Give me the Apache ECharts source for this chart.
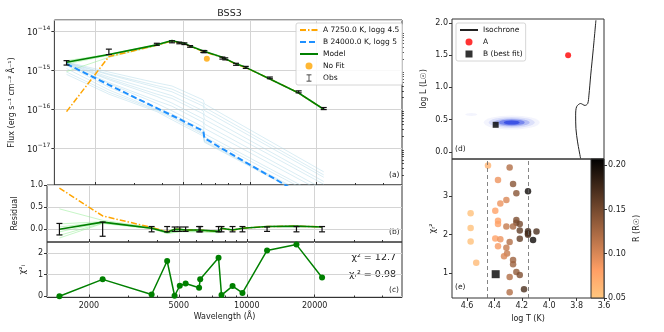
<!DOCTYPE html>
<html>
<head>
<meta charset="utf-8">
<script src="https://cdn.jsdelivr.net/npm/echarts@6/dist/echarts.min.js"></script>
<style>
html,body{margin:0;padding:0;background:#fff;}
#chart{width:664px;height:332px;}
</style>
</head>
<body>
<div id="chart"></div>
<script>
var FONT = 'DejaVu Sans';

// filter wavelengths (A) and fluxes as log10(erg/s/cm2/A)
var wave     = [1480, 2300, 3790, 4440, 4790, 5050, 5360, 6150, 6220, 7500, 7730, 8650, 9570, 12300, 16600, 21550];
var logObs   = [-14.80, -14.515, -14.325, -14.26, -14.29, -14.31, -14.38, -14.51, -14.515, -14.68, -14.70, -14.84, -14.92, -15.19, -15.55, -15.98];
var obsErr   = [0.13, 0.16, 0.06, 0.06, 0.05, 0.05, 0.05, 0.06, 0.06, 0.06, 0.06, 0.06, 0.06, 0.05, 0.06, 0.06];
var logModel = [-14.79, -14.59, -14.34, -14.23, -14.28, -14.30, -14.37, -14.50, -14.505, -14.66, -14.70, -14.83, -14.92, -15.22, -15.58, -16.00];
var logA     = [-16.06, -14.643, -14.35, -14.24, -14.29, -14.31, -14.38, -14.51, -14.51, -14.665, -14.705, -14.835, -14.925, -15.22, -15.58, -16.00];
var logB     = [-14.83, -15.37, -15.97, -16.16, -16.25, -16.32, -16.39, -16.56, -16.74, -17.02, -17.06, -17.22, -17.37, -17.72, -18.15, -18.52];
var noFitWave = [6380];
var noFitLog  = [-14.695];

// residuals and chi2 per filter
var resModel = [0.0, 0.16, 0.02, -0.07, 0.0, 0.0, -0.02, -0.02, -0.02, -0.05, 0.02, -0.02, 0.02, 0.06, 0.07, 0.05];
var resA     = [0.93, 0.30, 0.04, -0.06, 0.0, 0.0, -0.02, -0.02, -0.02, -0.05, 0.02, -0.02, 0.02, 0.06, 0.07, 0.05];
var chi2     = [0.0, 0.78, 0.08, 1.63, 0.02, 0.48, 0.59, 0.39, 0.78, 1.78, 0.05, 0.47, 0.15, 2.12, 2.39, 0.87];

// fainter B-component fits (log flux)
var sampleWave = [1480, 2300, 3790, 4440, 6150, 6220, 21550];
var bSamples = [
  [-14.78, -15.04, -15.32, -15.40, -15.76, -15.86, -17.61],
  [-14.79, -15.09, -15.39, -15.48, -15.85, -15.95, -17.69],
  [-14.80, -15.11, -15.44, -15.55, -15.92, -16.03, -17.75],
  [-14.80, -15.17, -15.53, -15.65, -16.04, -16.15, -17.86],
  [-14.81, -15.21, -15.61, -15.72, -16.12, -16.26, -17.93],
  [-14.82, -15.24, -15.67, -15.84, -16.25, -16.38, -18.06],
  [-14.83, -15.31, -15.78, -15.92, -16.34, -16.49, -18.14],
  [-14.84, -15.34, -15.85, -16.04, -16.46, -16.63, -18.27],
  [-14.87, -15.43, -15.96, -16.12, -16.54, -16.71, -18.33],
  [-14.95, -15.50, -16.01, -16.19, -16.62, -16.80, -18.42],
  [-15.04, -15.56, -16.03, -16.22, -16.65, -16.83, -18.45],
  [-15.10, -15.61, -16.06, -16.27, -16.69, -16.85, -18.48]
];
var gSampleWave = [1480, 2300, 3790, 4440];
var gSamples = [
  [-14.75, -14.58, -14.33, -14.23],
  [-14.77, -14.59, -14.34, -14.23],
  [-14.80, -14.60, -14.34, -14.24],
  [-14.83, -14.61, -14.35, -14.24],
  [-15.03, -14.66, -14.36, -14.24]
];
var rSampleWave = [1480, 2300, 3790, 4440, 5050, 6150, 7500];
var rSamples = [
  [0.12, 0.17, 0.04, -0.06, -0.02, -0.02, -0.04],
  [0.05, 0.16, 0.03, -0.07, -0.03, -0.03, -0.05],
  [-0.06, 0.15, 0.02, -0.08, -0.04, -0.04, -0.06],
  [-0.14, 0.14, 0.02, -0.09, -0.05, -0.05, -0.07],
  [-0.20, 0.13, 0.01, -0.10, -0.06, -0.06, -0.08],
  [0.46, 0.20, 0.04, -0.07, -0.03, -0.03, -0.04]
];

// HR diagram (d)
var isoT = [3.659, 3.678, 3.697, 3.710, 3.719, 3.739, 3.771, 3.800, 3.807, 3.805, 3.793, 3.771];
var isoL = [2.04, 1.60, 1.19, 0.88, 0.75, 0.72, 0.75, 0.70, 0.57, 0.36, 0.155, -0.10];
var blobT = [4.274, 4.569];
var blobL = [0.456, 0.58];
var starA = [3.862, 1.50];
var starB = [4.391, 0.42];

// chi2_r vs logT (e), colour = R
var fitT = [4.447, 4.289, 4.374, 4.264, 4.240, 4.155, 4.313, 4.357, 4.394, 4.574, 4.374, 4.374, 4.240, 4.240, 4.215, 4.313, 4.264, 4.574, 4.215, 4.155, 4.155, 4.155, 4.093, 4.394, 4.357, 4.215, 4.574, 4.118, 4.289, 4.374, 4.313, 4.308, 4.330, 4.264, 4.264, 4.533, 4.240, 4.215, 4.289, 4.184, 4.289];
var fitChi = [3.80, 3.75, 3.42, 3.32, 3.08, 3.13, 2.90, 2.81, 2.62, 2.56, 2.36, 2.28, 2.38, 2.31, 2.28, 2.21, 2.21, 2.17, 2.11, 2.09, 2.03, 2.00, 2.08, 1.90, 1.88, 1.89, 1.82, 1.86, 1.81, 1.70, 1.66, 1.51, 1.44, 1.34, 1.23, 1.27, 1.03, 0.95, 0.90, 0.58, 0.50];
var fitR = [0.065, 0.12, 0.09, 0.14, 0.14, 0.20, 0.10, 0.09, 0.08, 0.055, 0.08, 0.08, 0.145, 0.145, 0.15, 0.11, 0.125, 0.055, 0.16, 0.18, 0.18, 0.17, 0.17, 0.08, 0.09, 0.16, 0.055, 0.20, 0.12, 0.085, 0.11, 0.11, 0.10, 0.13, 0.13, 0.06, 0.135, 0.145, 0.12, 0.17, 0.12];
var bestFit = [4.391, 0.97];
var teffRange = [4.447, 4.147];

var majorWave = [2000, 5000, 10000, 20000];
var minorWave = [3000, 4000, 6000, 7000, 8000, 9000, 30000, 40000];
var cmap = ['#ffc77f', '#ff9f65', '#bf774c', '#805033', '#402819', '#000000'];

function pw(v) { return Math.pow(10, v); }
function pairs(xs, ys) { return xs.map(function (x, i) { return [x, ys[i]]; }); }

var myChart = echarts.init(document.getElementById('chart'));

var wMin = 1304, wMax = 48700;
var gx = 47, gw = 355;
var grids = [
  {left: gx, top: 20, width: gw, height: 165},
  {left: gx, top: 185, width: gw, height: 57},
  {left: gx, top: 242, width: gw, height: 55.5},
  {left: 452, top: 19, width: 152, height: 140},
  {left: 452, top: 159, width: 152, height: 139},
  {left: 591, top: 159, width: 13, height: 139}
];
grids.forEach(function (g) {
  g.show = true;
  g.borderColor = '#333';
  g.borderWidth = 1;
  g.backgroundColor = 'transparent';
  g.containLabel = false;
});
grids[5].backgroundColor = {
  type: 'linear', x: 0, y: 0, x2: 0, y2: 1,
  colorStops: cmap.slice().reverse().map(function (c, i) { return {offset: i / (cmap.length - 1), color: c}; })
};

var lg10 = function (v) { return Math.log10(v); };

var xAxes = [];
// 0-2 log axes used by data
for (var i = 0; i < 3; i++) {
  xAxes.push({type: 'log', gridIndex: i, min: wMin, max: wMax, position: 'top', show: false});
}
// 3-5 major ticks / grid lines / labels
for (var i = 0; i < 3; i++) {
  xAxes.push({
    type: 'value', gridIndex: i, min: lg10(wMin), max: lg10(wMax), position: 'bottom',
    axisLine: {show: false, onZero: false},
    axisTick: {show: true, inside: true, length: 3, customValues: majorWave.map(lg10), lineStyle: {color: '#333'}},
    axisLabel: {show: i === 2, customValues: majorWave.map(lg10), margin: 4,
      formatter: function (v) { return Math.round(Math.pow(10, v)); }, fontSize: 8, fontFamily: FONT, color: '#222'},
    splitLine: {show: true, lineStyle: {color: '#d4d4d4', width: 1}},
    name: i === 2 ? 'Wavelength (Å)' : '', nameLocation: 'middle', nameGap: 15,
    nameTextStyle: {fontSize: 8, fontFamily: FONT, color: '#222'}
  });
}
// 6-8 minor ticks
for (var i = 0; i < 3; i++) {
  xAxes.push({
    type: 'value', gridIndex: i, min: lg10(wMin), max: lg10(wMax), position: 'bottom',
    axisLine: {show: false, onZero: false},
    axisTick: {show: true, inside: true, length: 2, customValues: minorWave.map(lg10), lineStyle: {color: '#333'}},
    axisLabel: {show: false}, splitLine: {show: false}
  });
}
// 9 (d), 10 (e), 11 colorbar
xAxes.push({type: 'value', gridIndex: 3, inverse: true, min: 3.6, max: 4.71,
  axisLine: {show: false, onZero: false}, axisTick: {show: false}, axisLabel: {show: false}, splitLine: {show: false}});
xAxes.push({type: 'value', gridIndex: 4, inverse: true, min: 3.6, max: 4.71,
  axisLine: {show: false, onZero: false},
  axisTick: {show: true, length: 3, customValues: [3.6, 3.8, 4.0, 4.2, 4.4, 4.6], lineStyle: {color: '#333'}},
  axisLabel: {customValues: [3.6, 3.8, 4.0, 4.2, 4.4, 4.6], formatter: function (v) { return v.toFixed(1); },
    margin: 4, fontSize: 8, fontFamily: FONT, color: '#222'},
  splitLine: {show: false},
  name: 'log T (K)', nameLocation: 'middle', nameGap: 17, nameTextStyle: {fontSize: 8, fontFamily: FONT, color: '#222'}});
xAxes.push({type: 'value', gridIndex: 5, min: 0, max: 1, show: false});

var minorFlux = [];
for (var n = -18; n <= -14; n++) {
  for (var k = 2; k <= 9; k++) { minorFlux.push(n + Math.log10(k)); }
}

var yName = {fontSize: 8, fontFamily: FONT, color: '#222'};
var yAxes = [
  {type: 'log', gridIndex: 0, min: pw(-17.95), max: pw(-13.70),
    axisLine: {show: false, onZero: false},
    axisTick: {length: 3, lineStyle: {color: '#333'}},
    axisLabel: {showMinLabel: false, showMaxLabel: false, margin: 4,
      formatter: function (v) { var e = Math.round(Math.log10(v)); return '{b|10}{s|' + (e < 0 ? '−' : '') + Math.abs(e) + '}'; },
      rich: {b: {fontSize: 8.5, fontFamily: FONT, color: '#222', lineHeight: 12, verticalAlign: 'bottom'},
             s: {fontSize: 6, fontFamily: FONT, color: '#222', lineHeight: 12, verticalAlign: 'top'}}},
    splitLine: {show: true, lineStyle: {color: '#d4d4d4', width: 1}},
    name: 'Flux (erg s⁻¹ cm⁻² Å⁻¹)', nameLocation: 'middle', nameGap: 33, nameRotate: 90, nameTextStyle: yName},
  {type: 'value', gridIndex: 0, min: -17.95, max: -13.70,
    axisLine: {show: false, onZero: false},
    axisTick: {length: 1.8, customValues: minorFlux, lineStyle: {color: '#333'}},
    axisLabel: {show: false}, splitLine: {show: false}},
  {type: 'value', gridIndex: 1, min: -0.29, max: 1.0,
    axisLine: {show: false, onZero: false},
    axisTick: {length: 3, customValues: [0, 0.5, 1.0], lineStyle: {color: '#333'}},
    axisLabel: {customValues: [0, 0.5, 1.0], formatter: function (v) { return v.toFixed(1); }, margin: 4, fontSize: 8, fontFamily: FONT, color: '#222'},
    splitLine: {show: true, lineStyle: {color: '#d4d4d4', width: 1}},
    name: 'Residual', nameLocation: 'middle', nameGap: 21, nameRotate: 90, nameTextStyle: yName},
  {type: 'value', gridIndex: 2, min: -0.06, max: 2.51,
    axisLine: {show: false, onZero: false},
    axisTick: {length: 3, customValues: [0, 1, 2], lineStyle: {color: '#333'}},
    axisLabel: {customValues: [0, 1, 2], margin: 4, fontSize: 8, fontFamily: FONT, color: '#222'},
    splitLine: {show: true, lineStyle: {color: '#d4d4d4', width: 1}},
    name: 'χ²ᵢ', nameLocation: 'middle', nameGap: 12, nameRotate: 90, nameTextStyle: yName},
  {type: 'value', gridIndex: 3, min: -0.11, max: 2.06,
    axisLine: {show: false, onZero: false},
    axisTick: {length: 3, customValues: [0, 0.5, 1.0, 1.5, 2.0], lineStyle: {color: '#333'}},
    axisLabel: {customValues: [0, 0.5, 1.0, 1.5, 2.0], formatter: function (v) { return v.toFixed(1); }, margin: 4, fontSize: 8, fontFamily: FONT, color: '#222'},
    splitLine: {show: false},
    name: 'log L (L☉)', nameLocation: 'middle', nameGap: 24, nameRotate: 90, nameTextStyle: yName},
  {type: 'value', gridIndex: 4, min: 0.35, max: 3.97,
    axisLine: {show: false, onZero: false},
    axisTick: {length: 3, customValues: [1, 2, 3], lineStyle: {color: '#333'}},
    axisLabel: {customValues: [1, 2, 3], margin: 4, fontSize: 8, fontFamily: FONT, color: '#222'},
    splitLine: {show: false},
    name: 'χᵣ²', nameLocation: 'middle', nameGap: 15, nameRotate: 90, nameTextStyle: yName},
  {type: 'value', gridIndex: 5, position: 'right', min: 0.05, max: 0.207,
    axisLine: {show: false, onZero: false},
    axisTick: {length: 3, customValues: [0.05, 0.10, 0.15, 0.20], lineStyle: {color: '#333'}},
    axisLabel: {customValues: [0.05, 0.10, 0.15, 0.20], formatter: function (v) { return v.toFixed(2); }, margin: 4, fontSize: 8, fontFamily: FONT, color: '#222'},
    splitLine: {show: false},
    name: 'R (R☉)', nameLocation: 'middle', nameGap: 29, nameRotate: 90, nameTextStyle: yName}
];

function errRender(params, api) {
  var x = api.value(0);
  var p0 = api.coord([x, api.value(1)]);
  var p1 = api.coord([x, api.value(2)]);
  var c = 3;
  var st = {stroke: '#111', lineWidth: 1.2};
  return {type: 'group', children: [
    {type: 'line', shape: {x1: p0[0], y1: p0[1], x2: p1[0], y2: p1[1]}, style: st},
    {type: 'line', shape: {x1: p0[0] - c, y1: p0[1], x2: p0[0] + c, y2: p0[1]}, style: st},
    {type: 'line', shape: {x1: p1[0] - c, y1: p1[1], x2: p1[0] + c, y2: p1[1]}, style: st}
  ]};
}

var series = [];
// (a) SED
bSamples.forEach(function (s) {
  series.push({type: 'line', xAxisIndex: 0, yAxisIndex: 0, data: pairs(sampleWave, s.map(pw)), symbol: 'none', silent: true,
    lineStyle: {color: '#a9d6e5', width: 0.8, opacity: 0.55}, z: 1});
});
gSamples.forEach(function (s) {
  series.push({type: 'line', xAxisIndex: 0, yAxisIndex: 0, data: pairs(gSampleWave, s.map(pw)), symbol: 'none', silent: true,
    lineStyle: {color: '#90ee90', width: 1, opacity: 0.5}, z: 1});
});
series.push({name: 'A 7250.0 K, logg 4.5', type: 'line', xAxisIndex: 0, yAxisIndex: 0, data: pairs(wave, logA.map(pw)), symbol: 'none',
  lineStyle: {color: '#ffa500', width: 1.5, type: [6, 2, 1.5, 2]}, itemStyle: {color: '#ffa500'}, z: 3});
series.push({name: 'B 24000.0 K, logg 5', type: 'line', xAxisIndex: 0, yAxisIndex: 0, data: pairs(wave, logB.map(pw)), symbol: 'none',
  lineStyle: {color: '#1e90ff', width: 2, type: [6, 3]}, itemStyle: {color: '#1e90ff'}, z: 3});
series.push({name: 'Model', type: 'line', xAxisIndex: 0, yAxisIndex: 0, data: pairs(wave, logModel.map(pw)), symbol: 'none',
  lineStyle: {color: '#008000', width: 1.6}, itemStyle: {color: '#008000'}, z: 4});
series.push({name: 'No Fit', type: 'scatter', xAxisIndex: 0, yAxisIndex: 0, data: pairs(noFitWave, noFitLog.map(pw)), symbolSize: 6,
  itemStyle: {color: '#ffa500'}, z: 5});
series.push({name: 'Obs', type: 'custom', xAxisIndex: 0, yAxisIndex: 0, renderItem: errRender,
  encode: {x: 0, y: [1, 2]}, itemStyle: {color: '#111'}, z: 6,
  data: wave.map(function (w, i) { var f = pw(logObs[i]); return [w, f * (1 - obsErr[i]), f * (1 + obsErr[i])]; })});

// (b) residuals
rSamples.forEach(function (s) {
  series.push({type: 'line', xAxisIndex: 1, yAxisIndex: 2, data: pairs(rSampleWave, s), symbol: 'none', silent: true,
    lineStyle: {color: '#90ee90', width: 1, opacity: 0.5}, z: 1});
});
series.push({type: 'line', xAxisIndex: 1, yAxisIndex: 2, data: pairs(wave, resA), symbol: 'none',
  lineStyle: {color: '#ffa500', width: 1.5, type: [6, 2, 1.5, 2]}, z: 3});
series.push({type: 'line', xAxisIndex: 1, yAxisIndex: 2, data: pairs(wave, resModel), symbol: 'none',
  lineStyle: {color: '#008000', width: 1.6}, z: 4});
series.push({type: 'custom', xAxisIndex: 1, yAxisIndex: 2, renderItem: errRender, encode: {x: 0, y: [1, 2]}, z: 6,
  data: wave.map(function (w, i) { return [w, -obsErr[i], obsErr[i]]; })});

// (c) chi2 per point
series.push({type: 'line', xAxisIndex: 2, yAxisIndex: 3, data: pairs(wave, chi2), symbol: 'circle', symbolSize: 6,
  lineStyle: {color: '#008000', width: 1.5}, itemStyle: {color: '#008000'}, z: 4});

// (d) HR diagram
var blobLayers = [[56, 14, 0.05], [46, 11, 0.1], [36, 8, 0.2], [26, 6, 0.38], [16, 4, 0.6]];
var blobData = blobLayers.map(function (b) {
  return {value: [blobT[0], blobL[0]], symbolSize: [b[0], b[1]], itemStyle: {opacity: b[2]}};
});
blobData.push({value: [blobT[1], blobL[1]], symbolSize: [12, 3], itemStyle: {opacity: 0.05}});
series.push({type: 'scatter', xAxisIndex: 9, yAxisIndex: 4, data: blobData, silent: true,
  itemStyle: {color: '#1530e0'}, z: 1});
series.push({name: 'Isochrone', type: 'line', xAxisIndex: 9, yAxisIndex: 4, data: pairs(isoT, isoL), symbol: 'none', smooth: 0.3,
  lineStyle: {color: '#222', width: 1}, itemStyle: {color: '#444'}, z: 2});
series.push({name: 'A', type: 'scatter', xAxisIndex: 9, yAxisIndex: 4, data: [starA], symbolSize: 6, itemStyle: {color: '#ff0000'}, z: 3});
series.push({name: 'B (best fit)', type: 'scatter', xAxisIndex: 9, yAxisIndex: 4, data: [starB], symbol: 'rect', symbolSize: 6,
  itemStyle: {color: '#000'}, z: 3});

// (e) chi2_r vs T
var fitIdx = series.length;
series.push({type: 'scatter', xAxisIndex: 10, yAxisIndex: 5, symbolSize: 6.5, z: 3,
  data: fitT.map(function (t, i) { return [t, fitChi[i], fitR[i]]; })});
series.push({type: 'scatter', xAxisIndex: 10, yAxisIndex: 5, symbol: 'rect', symbolSize: 8, data: [bestFit],
  itemStyle: {color: '#000'}, z: 4,
  markLine: {silent: true, symbol: 'none', label: {show: false},
    lineStyle: {color: '#666', width: 0.8, type: [4, 3]},
    data: teffRange.map(function (t) { return {xAxis: t}; })}});

function txt(s, x, y, size, align) {
  return {type: 'text', x: x, y: y, silent: true,
    style: {text: s, fill: '#222', fontSize: size, fontFamily: FONT, align: align || 'left', verticalAlign: 'middle'}};
}

var noSym = {opacity: 0};
var dot = 'path://M5,0A5,5,0,1,1,4.99,0Z';
var square = 'path://M0,0h10v10h-10z';

function legendOf(pos, items) {
  return {
    left: pos[0], top: pos[1], data: items,
    orient: 'vertical', itemWidth: 18, itemHeight: 7, itemGap: 4, padding: [3, 3, 3, 3],
    borderColor: '#cccccc', borderWidth: 0.8, borderRadius: 2, backgroundColor: 'rgba(255,255,255,0.85)',
    textStyle: {fontSize: 7.5, fontFamily: FONT, color: '#111'}, selectedMode: false
  };
}

var option = {
  animation: false,
  textStyle: {fontFamily: FONT},
  title: {text: 'BSS3', left: gx + gw / 2, top: 4, textAlign: 'center',
    textStyle: {fontSize: 9.5, fontWeight: 'normal', fontFamily: FONT, color: '#222'}},
  grid: grids,
  xAxis: xAxes,
  yAxis: yAxes,
  legend: [
    legendOf([296, 23], [
      {name: 'A 7250.0 K, logg 4.5', itemStyle: noSym},
      {name: 'B 24000.0 K, logg 5', itemStyle: noSym},
      {name: 'Model', itemStyle: noSym},
      {name: 'No Fit', icon: dot},
      {name: 'Obs', icon: 'path://M0,0h7v1h-7zM3,1h1v8h-1zM0,9h7v1h-7z'}
    ]),
    legendOf([456, 23], [
      {name: 'Isochrone', itemStyle: noSym},
      {name: 'A', icon: dot},
      {name: 'B (best fit)', icon: square}
    ])
  ],
  visualMap: {type: 'continuous', show: false, seriesIndex: fitIdx, dimension: 2, min: 0.05, max: 0.207,
    inRange: {color: cmap}},
  graphic: [
    txt('(a)', 389, 175, 7.5), txt('(b)', 389, 232, 7.5), txt('(c)', 389, 290, 7.5),
    txt('(d)', 455, 149, 7.5), txt('(e)', 455, 287, 7.5),
    txt('χ² = 12.7', 396, 258, 9.5, 'right'), txt('χᵣ² = 0.98', 396, 275, 9.5, 'right')
  ],
  series: series
};

myChart.setOption(option);
</script>
</body>
</html>
